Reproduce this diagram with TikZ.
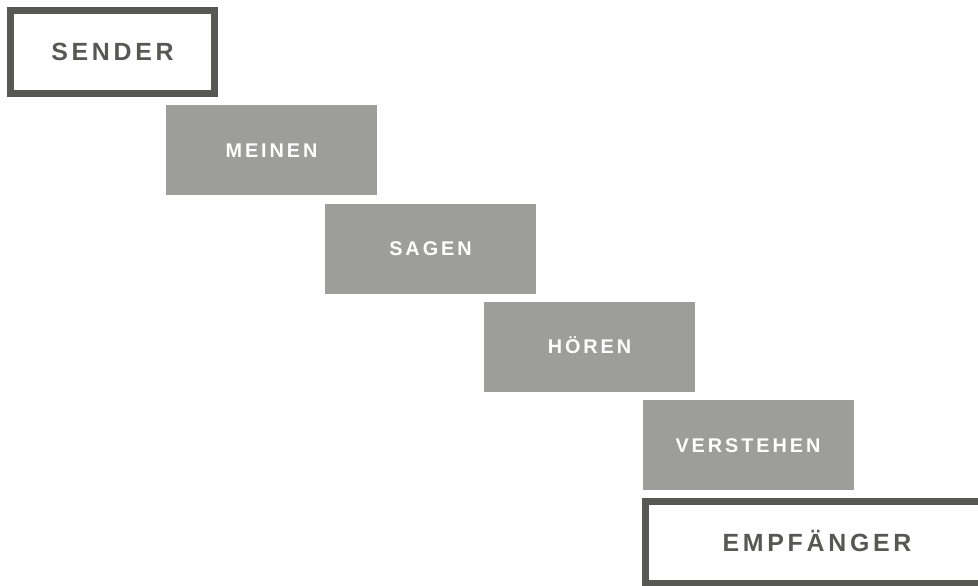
\documentclass[tikz,border=0pt]{standalone}
\usepackage{fontspec}
\usepackage{xcolor}
\usepackage{tikz}
\newfontfamily\stagefont[LetterSpace=15]{Liberation Sans}
\definecolor{stagegray}{HTML}{9D9D9C}
\definecolor{framegray}{HTML}{575756}
\tikzset{
  box/.style={rectangle,align=center,inner sep=0pt,text depth=0pt},
  stage/.style={box,fill=stagegray,text=white,minimum width=5.275cm,minimum height=2.25cm,
                text height=10.1pt,
                font=\stagefont\bfseries\fontsize{14.1}{16}\selectfont},   % Zwischenschritt
  party/.style={box,draw=framegray,line width=0.175cm,text=framegray,text height=12.7pt,
                font=\stagefont\bfseries\fontsize{17.7}{20}\selectfont}    % Sender / Empfaenger
}

\begin{document}
\begin{tikzpicture}
  \useasboundingbox (0,0) rectangle (24.45,-14.625);

  \node[party,minimum width=5.1cm,minimum height=2.075cm] (sender) at (2.8125,-1.30) {SENDER};

  \node[stage] (meinen)    at (6.7875,-3.75)   {MEINEN};
  \node[stage] (sagen)     at (10.7625,-6.2125) {SAGEN};
  \node[stage] (hoeren)    at (14.7375,-8.6625) {HÖREN};
  \node[stage] (verstehen) at (18.70,-11.125)  {VERSTEHEN};

  \node[party,minimum width=8.575cm,minimum height=2.05cm] (empfaenger) at (20.425,-13.5625) {EMPFÄNGER};
\end{tikzpicture}
\end{document}
